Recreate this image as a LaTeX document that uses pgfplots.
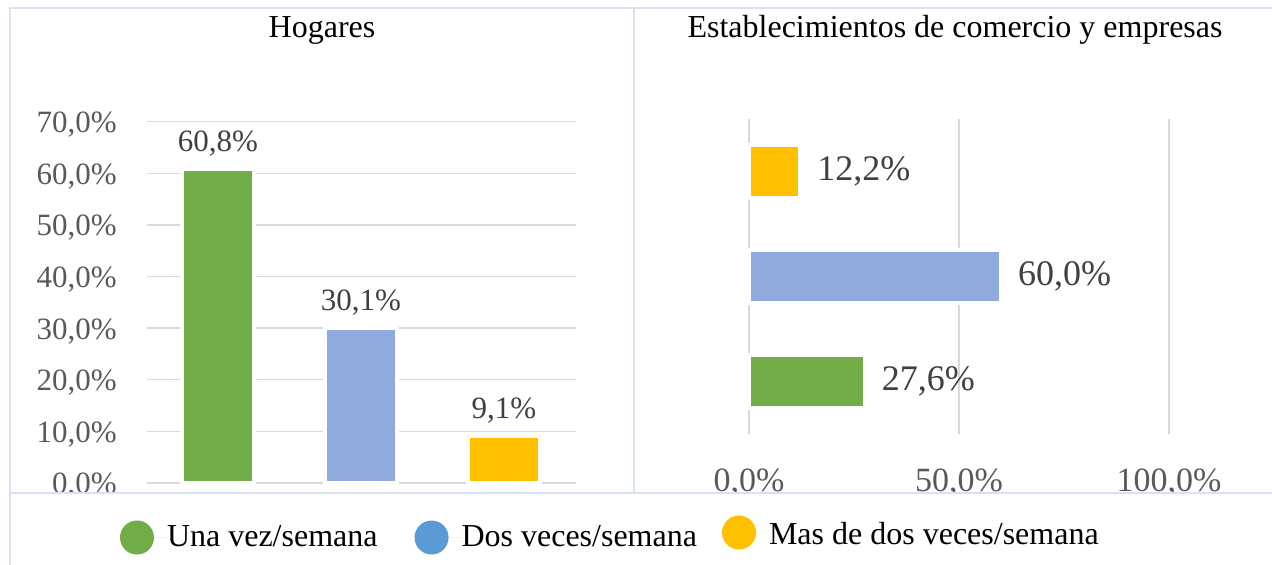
\documentclass[border=0pt]{standalone}
\usepackage{pgfplots}
\pgfplotsset{compat=1.18}
\usepackage{fontspec}
\setmainfont{Liberation Serif}
\definecolor{cgreen}{HTML}{70AD47}
\definecolor{cblue}{HTML}{8FAADC}
\definecolor{cyellow}{HTML}{FFC000}
\definecolor{clegblue}{HTML}{5B9BD5}
\definecolor{cgrid}{HTML}{D9D9D9}
\definecolor{cborder}{HTML}{D9E2F3}
\definecolor{ctick}{HTML}{595959}
\definecolor{clabel}{HTML}{404040}

\pgfplotsset{
  numfmt/.style={
    /pgf/number format/fixed,
    /pgf/number format/fixed zerofill,
    /pgf/number format/precision=1,
    /pgf/number format/use comma,
    /pgf/number format/1000 sep={},
    /pgf/number format/assume math mode=true,
  },
}

\begin{document}
\begin{tikzpicture}
\useasboundingbox (0,0) rectangle (636pt,-282pt);
\clip (0,0) rectangle (636pt,-282pt);
\fill[white] (0,0) rectangle (636pt,-282pt);

% ---------- Left panel: Hogares ----------
\begin{axis}[
  at={(73.25pt,-241.45pt)}, anchor=south west, scale only axis,
  width=214.5pt, height=180.6pt,
  xmin=-0.5, xmax=2.5, ymin=0, ymax=70,
  xtick=\empty, ytick={0,10,...,70},
  ymajorgrids, grid style={cgrid, line width=0.75pt},
  axis line style={draw=none}, major tick length=0pt,
  numfmt,
  yticklabel={\pgfmathprintnumber{\tick}\%},
  yticklabel style={font=\fontsize{15.5pt}{18pt}\selectfont, text=ctick,
    anchor=east, inner sep=0pt, xshift=-14.75pt, yshift=-1.5pt},
  ybar, bar shift=0pt, bar width=35.9pt,
  point meta=y,
  nodes near coords={\pgfmathprintnumber{\pgfplotspointmeta}\%},
  nodes near coords style={font=\fontsize{15.5pt}{18pt}\selectfont, text=clabel,
    anchor=base, inner sep=0pt, yshift=8.75pt},
  clip=false,
]
\addplot[fill=cgreen, draw=white, line width=2.07pt] coordinates {(0,60.8)};
\addplot[fill=cblue, draw=white, line width=2.07pt] coordinates {(1,30.1)};
\addplot[fill=cyellow, draw=white, line width=2.07pt] coordinates {(2,9.1)};
\end{axis}

% ---------- Right panel: Establecimientos ----------
\begin{axis}[
  at={(374.5pt,-216.75pt)}, anchor=south west, scale only axis,
  width=210pt, height=157.5pt,
  xmin=0, xmax=100, ymin=-0.5, ymax=2.5,
  ytick=\empty, xtick={0,50,100},
  xmajorgrids, grid style={cgrid, line width=0.75pt},
  axis line style={draw=none}, major tick length=0pt,
  numfmt,
  xticklabel={\pgfmathprintnumber{\tick}\%},
  xticklabel style={font=\fontsize{17pt}{20pt}\selectfont, text=ctick,
    anchor=base, inner sep=0pt, yshift=-29pt},
  xbar, bar shift=0pt, bar width=26.5pt,
  point meta=x,
  nodes near coords={\pgfmathprintnumber{\pgfplotspointmeta}\%},
  nodes near coords style={font=\fontsize{18pt}{21pt}\selectfont, text=clabel,
    anchor=west, inner sep=0pt, xshift=7.5pt},
  clip=false,
]
\addplot[fill=cgreen, draw=white, line width=2pt] coordinates {(27.6,0)};
\addplot[fill=cblue, draw=white, line width=2pt] coordinates {(60.0,1)};
\addplot[fill=cyellow, draw=white, line width=2pt] coordinates {(12.2,2)};
\end{axis}

% mask below the chart area (labels cut by the frame)
\fill[white] (0,-246.7pt) rectangle (636pt,-282pt);

% frames
\draw[cborder, line width=1pt] (5pt,-290pt) -- (5pt,-3.9pt) -- (640pt,-3.9pt);
\draw[cborder, line width=1pt] (316.85pt,-3.9pt) -- (316.85pt,-246.7pt);
\draw[cborder, line width=1pt] (5pt,-246.7pt) -- (640pt,-246.7pt);

% titles
\node[anchor=base, font=\fontsize{16pt}{19pt}\selectfont] at (161pt,-18.75pt) {Hogares};
\node[anchor=base, font=\fontsize{16pt}{19pt}\selectfont] at (477.5pt,-18.75pt) {Establecimientos de comercio y empresas};

% legend
\begin{axis}[
  at={(60pt,-267.5pt)}, anchor=center, scale only axis,
  width=1pt, height=1pt, hide axis,
  xmin=0, xmax=1, ymin=0, ymax=1,
  legend columns=3,
  legend style={at={(0.5,0.5)}, anchor=west, draw=none, fill=none,
    inner sep=0pt, outer sep=0pt,
    font=\fontsize{16pt}{19pt}\selectfont,
    nodes={inner sep=0pt},
    /tikz/every even column/.append style={column sep=12.5pt}},
  legend image code/.code={
    \fill[#1] (0pt,0pt) circle[radius=8.5pt];
    \path (-8.5pt,0pt) -- (15pt,0pt);
  },
]
\addlegendimage{fill=cgreen, draw=none}
\addlegendentry{Una vez/semana\rule{6pt}{0pt}}
\addlegendimage{fill=clegblue, draw=none}
\addlegendentry{Dos veces/semana}
\addlegendimage{fill=cyellow, draw=none, yshift=2.5pt}
\addlegendentry{\raisebox{2.5pt}{Mas de dos veces/semana}}
\end{axis}
\end{tikzpicture}
\end{document}
